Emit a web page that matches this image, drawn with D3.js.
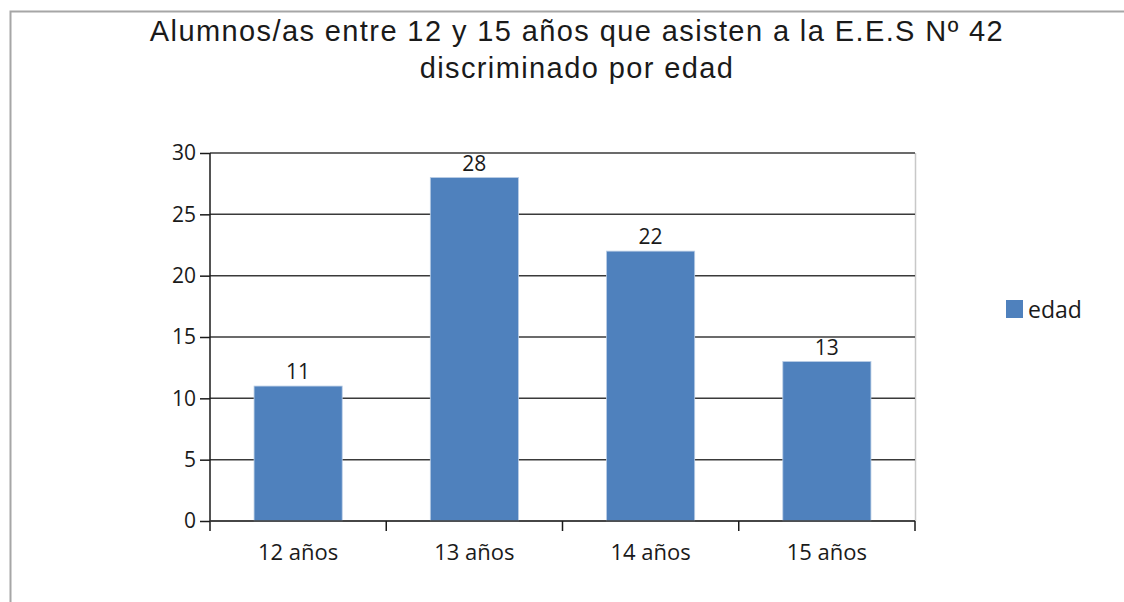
<!DOCTYPE html>
<html>
<head>
<meta charset="utf-8">
<script src="https://cdn.jsdelivr.net/npm/d3@7"></script>
<style>
  body { margin: 0; background: #fff; }
  svg { display: block; }
</style>
</head>
<body>
<svg id="chart" width="1124" height="602"></svg>
<script>
'use strict'

var categories = ['12 años', '13 años', '14 años', '15 años']
var values = [11, 28, 22, 13]
var yTicks = [0, 5, 10, 15, 20, 25, 30]
var seriesName = 'edad'
var titleLines = ['Alumnos/as entre 12 y 15 años que asisten a la E.E.S Nº 42', 'discriminado por edad']

var svg = d3.select('#chart')
var plot = { left: 210, right: 915, top: 153, bottom: 521 }
var barColor = '#4f81bd'
var labelFont = '"Open Sans", "DejaVu Sans", sans-serif'

// outer frame (only left and top edges show in the picture)
svg.append('path')
  .attr('d', 'M10.5,602 L10.5,11.5 L1124,11.5')
  .attr('fill', 'none')
  .attr('stroke', '#a6a6a6')
  .attr('stroke-width', 2)

svg.append('g')
  .selectAll('text')
  .data(titleLines)
  .enter().append('text')
    .attr('x', 577)
    .attr('y', (d, i) => 41 + i * 37)
    .attr('text-anchor', 'middle')
    .attr('font-family', '"Liberation Sans", Arial, sans-serif')
    .attr('font-size', 29)
    .attr('letter-spacing', 1.4)
    .attr('fill', '#1a1a1a')
    .text((d) => d)

var x = d3.scaleBand()
  .domain(categories)
  .range([plot.left, plot.right])
  .paddingInner(0.5)
  .paddingOuter(0.25)

var band = d3.scaleBand()
  .domain(categories)
  .range([plot.left, plot.right])

var y = d3.scaleLinear()
  .domain([0, 30])
  .range([plot.bottom, plot.top])

// right plot border
svg.append('line')
  .attr('x1', plot.right + 0.5).attr('x2', plot.right + 0.5)
  .attr('y1', plot.top).attr('y2', plot.bottom)
  .attr('stroke', '#c8c8c8')
  .attr('stroke-width', 1.5)

// gridlines
svg.append('g')
  .selectAll('line')
  .data(yTicks)
  .enter().append('line')
    .attr('x1', plot.left).attr('x2', plot.right)
    .attr('y1', (d) => y(d)).attr('y2', (d) => y(d))
    .attr('stroke', '#3a3a3a')
    .attr('stroke-width', 1.5)

// bars
svg.append('g')
  .selectAll('rect')
  .data(values)
  .enter().append('rect')
    .attr('x', (d, i) => x(categories[i]))
    .attr('y', (d) => y(d))
    .attr('width', x.bandwidth())
    .attr('height', (d) => y(0) - y(d))
    .attr('fill', barColor)
    .attr('stroke', '#b9cde5')
    .attr('stroke-width', 0.8)

// value labels
svg.append('g')
  .selectAll('text')
  .data(values)
  .enter().append('text')
    .attr('x', (d, i) => x(categories[i]) + x.bandwidth() / 2)
    .attr('y', (d) => y(d) - 7)
    .attr('text-anchor', 'middle')
    .attr('font-family', labelFont)
    .attr('font-size', 21)
    .attr('fill', '#1a1a1a')
    .text((d) => d)

// y axis
var yAxis = svg.append('g')
  .attr('transform', 'translate(' + plot.left + ',0)')
  .call(d3.axisLeft(y).tickValues(yTicks).tickSize(10).tickPadding(4))
yAxis.select('.domain').attr('d', 'M0,' + plot.top + 'V' + (plot.bottom + 10))
yAxis.selectAll('path, line').attr('stroke', '#1a1a1a').attr('stroke-width', 1.5)
yAxis.selectAll('text')
  .attr('font-family', labelFont)
  .attr('font-size', 21)
  .attr('fill', '#1a1a1a')

// x axis ticks between categories
var xAxis = svg.append('g')
  .attr('transform', 'translate(0,' + plot.bottom + ')')
xAxis.append('line')
  .attr('x1', plot.left).attr('x2', plot.right)
  .attr('stroke', '#3a3a3a').attr('stroke-width', 1.5)
xAxis.selectAll('line.tick')
  .data(categories)
  .enter().append('line')
    .attr('class', 'tick')
    .attr('x1', (d) => band(d) + band.bandwidth())
    .attr('x2', (d) => band(d) + band.bandwidth())
    .attr('y1', 0).attr('y2', 10)
    .attr('stroke', '#1a1a1a').attr('stroke-width', 1.5)
xAxis.selectAll('text')
  .data(categories)
  .enter().append('text')
    .attr('x', (d) => x(d) + x.bandwidth() / 2)
    .attr('y', 39)
    .attr('text-anchor', 'middle')
    .attr('font-family', labelFont)
    .attr('font-size', 22)
    .attr('fill', '#1a1a1a')
    .text((d) => d)

// legend
var legend = svg.append('g').attr('transform', 'translate(1006,300)')
legend.append('rect')
  .attr('width', 17).attr('height', 18)
  .attr('fill', barColor)
legend.append('text')
  .attr('x', 22).attr('y', 18)
  .attr('font-family', labelFont)
  .attr('font-size', 23)
  .attr('fill', '#1a1a1a')
  .text(seriesName)
</script>
</body>
</html>
